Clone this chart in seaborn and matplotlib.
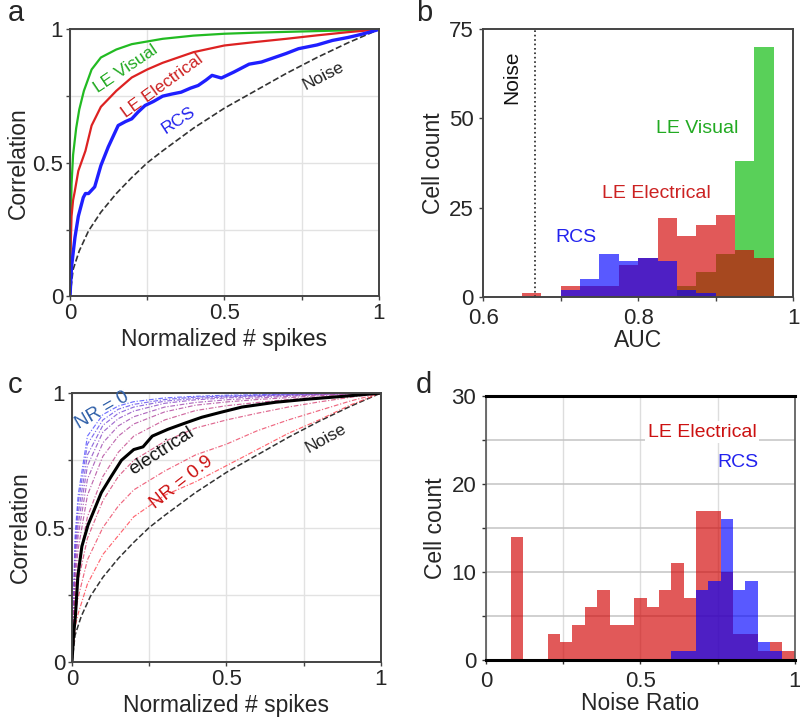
import numpy as np
import pandas as pd
import matplotlib
matplotlib.use("Agg")
import matplotlib.pyplot as plt
import seaborn as sns
from matplotlib.ticker import FixedLocator

sns.set_style("white")
plt.rcParams['font.family'] = ['Liberation Sans', 'DejaVu Sans']

# ---------------- Panel a data ----------------
noise_x = [0, .01, .03, .06, .1, .15, .2, .25, .3, .4, .5, .6, .7, .8, .9, 1.0]
noise_y = [0, .10, .17, .245, .315, .385, .445, .50, .545, .63, .705, .77, .835, .895, .95, 1.0]

vis_x = [0, .002, .005, .01, .02, .03, .045, .07, .1, .15, .2, .3, .4, .5, .6, .7, .8, .9, 1.0]
vis_y = [0, .25, .42, .53, .63, .70, .77, .85, .895, .925, .945, .965, .977, .984, .988, .991, .994, .997, 1.0]

ele_x = [0, .002, .005, .01, .015, .027, .05, .07, .1, .15, .2, .25, .3, .4, .5, .6, .7, .8, .9, 1.0]
ele_y = [0, .18, .30, .36, .39, .47, .545, .64, .71, .77, .82, .85, .875, .915, .94, .953, .965, .978, .99, 1.0]

rcs_x = [0, .005, .016, .027, .043, .05, .06, .08, .1, .124, .14, .156, .18, .2, .22, .243, .27, .3, .33,
         .36, .39, .415, .44, .46, .49, .53, .58, .62, .65, .7, .74, .8, .85, .9, .93, .97, 1.0]
rcs_y = [0, .11, .22, .30, .37, .385, .385, .41, .49, .56, .60, .64, .655, .665, .69, .715, .73, .75, .758,
         .765, .78, .79, .81, .828, .818, .84, .87, .878, .89, .91, .928, .942, .959, .97, .978, .99, 1.0]

# ---------------- Panel b data ----------------
auc_edges = [0.6, 0.625, 0.65, 0.675, 0.7, 0.725, 0.75, 0.775, 0.8, 0.825, 0.85,
             0.875, 0.9, 0.925, 0.95, 0.975, 1.0]
auc_visual = [0, 0, 0, 0, 0, 0, 0, 0, 0, 0, 3, 7, 12, 38, 70, 0]
auc_elec = [0, 0, 1, 0, 3, 3, 3, 9, 11, 22, 17, 20, 23, 13, 11, 0]
auc_rcs = [0, 0, 0, 0, 2, 5, 12, 10, 11, 10, 2, 1, 0, 0, 0, 0]
auc_noise = 0.667

# ---------------- Panel c data ----------------
nr_x = [0, .01, .02, .05, .1, .15, .2, .3, .4, .5, .6, .7, .8, .9, 1.0]
nr_levels = [0.0, 0.1, 0.2, 0.3, 0.4, 0.5, 0.6, 0.7, 0.8, 0.9]
nr_curves = [
    [0, .47, .62, .84, .92, .952, .968, .982, .988, .992, .994, .996, .998, .999, 1],
    [0, .44, .59, .81, .90, .94, .958, .976, .985, .989, .992, .995, .997, .999, 1],
    [0, .41, .55, .77, .88, .925, .948, .97, .98, .986, .99, .993, .996, .998, 1],
    [0, .38, .51, .73, .855, .905, .933, .962, .975, .982, .987, .991, .995, .998, 1],
    [0, .34, .47, .68, .815, .878, .912, .948, .965, .975, .982, .988, .993, .997, 1],
    [0, .30, .42, .62, .765, .84, .885, .93, .955, .967, .976, .983, .99, .995, 1],
    [0, .26, .36, .54, .69, .78, .84, .90, .935, .953, .965, .976, .985, .993, 1],
    [0, .22, .30, .46, .60, .69, .75, .82, .87, .90, .925, .948, .967, .984, 1],
    [0, .17, .24, .38, .50, .58, .64, .71, .77, .81, .86, .90, .935, .97, 1],
    [0, .13, .18, .29, .40, .47, .54, .62, .67, .73, .79, .85, .90, .955, 1],
]
elc_x = [0, .005, .011, .019, .032, .052, .07, .095, .127, .16, .2, .23, .26, .31, .37, .42, .48, .55, .66, .77, .88, 1.0]
elc_y = [0, .10, .17, .32, .43, .51, .56, .63, .69, .75, .79, .80, .84, .865, .89, .91, .928, .948, .966, .978, .988, 1.0]

# ---------------- Panel d data ----------------
nr_edges = [round(0.04 * i, 2) for i in range(26)]
nr_elec = [0, 0, 14, 0, 0, 3, 2, 4, 6, 8, 4, 4, 7, 6, 8, 11, 7, 17, 17, 10, 3, 3, 1, 2, 1]
nr_rcs = [0, 0, 0, 0, 0, 0, 0, 0, 0, 0, 0, 0, 0, 0, 0, 1, 1, 8, 9, 16, 8, 9, 2, 1, 0]

# ---------------- figure ----------------
fig = plt.figure(figsize=(8, 7.19), dpi=100)
ax_a = fig.add_axes([0.0875, 0.588, 0.386, 0.371])
ax_b = fig.add_axes([0.604, 0.587, 0.3875, 0.373])
ax_c = fig.add_axes([0.090, 0.0793, 0.386, 0.374])
ax_d = fig.add_axes([0.6075, 0.082, 0.386, 0.367])

TICK_FS = 16
LAB_FS = 16.5
SPINE = '#444444'


def style_unit(ax):
    ax.set_xlim(0, 1)
    ax.set_ylim(0, 1)
    ax.xaxis.set_major_locator(FixedLocator([0, 0.5, 1]))
    ax.yaxis.set_major_locator(FixedLocator([0, 0.5, 1]))
    ax.xaxis.set_minor_locator(FixedLocator([0.25, 0.75]))
    ax.yaxis.set_minor_locator(FixedLocator([0.25, 0.75]))
    ax.set_xticklabels(['0', '0.5', '1'])
    ax.set_yticklabels(['0', '0.5', '1'])
    ax.grid(True, which='both', color='#e2e2e2', lw=1)
    ax.set_axisbelow(True)
    for s in ax.spines.values():
        s.set_color(SPINE)
        s.set_linewidth(1.4)
    ax.tick_params(which='both', direction='out', length=3, width=1, color=SPINE,
                   labelsize=TICK_FS, pad=2, left=True, bottom=True)
    ax.set_xlabel('Normalized # spikes', fontsize=LAB_FS, labelpad=3)
    ax.set_ylabel('Correlation', fontsize=LAB_FS, labelpad=2)


# ---- a ----
sns.lineplot(x=noise_x, y=noise_y, ax=ax_a, color='#333333', lw=1.2, linestyle='--',
             estimator=None, sort=False)
sns.lineplot(x=vis_x, y=vis_y, ax=ax_a, color='#22bb22', lw=1.6, estimator=None, sort=False)
sns.lineplot(x=ele_x, y=ele_y, ax=ax_a, color='#dd2222', lw=1.6, estimator=None, sort=False)
sns.lineplot(x=rcs_x, y=rcs_y, ax=ax_a, color='#1f1fff', lw=2.4, estimator=None, sort=False)
style_unit(ax_a)
ax_a.text(0.18, 0.853, 'LE Visual', color='#22aa22', fontsize=12.5, rotation=34,
          ha='center', va='center')
ax_a.text(0.299, 0.788, 'LE Electrical', color='#cc2222', fontsize=12.5, rotation=36,
          ha='center', va='center')
ax_a.text(0.35, 0.659, 'RCS', color='#2222ee', fontsize=12.5, rotation=33,
          ha='center', va='center')
ax_a.text(0.82, 0.825, 'Noise', color='#222222', fontsize=12.5, rotation=27,
          ha='center', va='center')

# ---- b ----
auc_centers = [(auc_edges[i] + auc_edges[i + 1]) / 2 for i in range(len(auc_edges) - 1)]
for counts, col in [(auc_visual, (0, 0.72, 0)), (auc_elec, (0.82, 0, 0)), (auc_rcs, (0, 0, 1))]:
    sns.histplot(x=auc_centers, weights=counts, bins=auc_edges, ax=ax_b, color=col,
                 alpha=0.65, linewidth=0, element='bars')
ax_b.axvline(auc_noise, color='#222222', ls=':', lw=1.2)
ax_b.set_xlim(0.6, 1.0)
ax_b.set_ylim(0, 75)
ax_b.xaxis.set_major_locator(FixedLocator([0.6, 0.8, 1.0]))
ax_b.xaxis.set_minor_locator(FixedLocator([0.7, 0.9]))
ax_b.set_xticklabels(['0.6', '0.8', '1'])
ax_b.yaxis.set_major_locator(FixedLocator([0, 25, 50, 75]))
for s in ax_b.spines.values():
    s.set_color(SPINE)
    s.set_linewidth(1.4)
ax_b.tick_params(which='both', direction='out', length=3, width=1, color=SPINE,
                 labelsize=TICK_FS, pad=2, left=True, bottom=True)
ax_b.tick_params(axis='x', pad=5)
ax_b.tick_params(axis='y', pad=4)
ax_b.set_xlabel('AUC', fontsize=LAB_FS, labelpad=0)
ax_b.set_ylabel('Cell count', fontsize=LAB_FS, labelpad=3)
ax_b.text(0.8765, 47.2, 'LE Visual', color='#22aa22', fontsize=14, ha='center', va='center')
ax_b.text(0.823, 28.8, 'LE Electrical', color='#cc2222', fontsize=14, ha='center', va='center')
ax_b.text(0.72, 16.7, 'RCS', color='#2222ee', fontsize=14, ha='center', va='center')
ax_b.text(0.637, 61.5, 'Noise', color='#111111', fontsize=15, rotation=90,
          ha='center', va='center')

# ---- c ----
sns.lineplot(x=noise_x, y=noise_y, ax=ax_c, color='#333333', lw=1.1, linestyle='--',
             estimator=None, sort=False)
blue = np.array([0.3, 0.3, 1.0])
red = np.array([1.0, 0.25, 0.3])
for lvl, curve in zip(nr_levels, nr_curves):
    t = lvl / 0.9
    col = tuple((1 - t) * blue + t * red)
    sns.lineplot(x=nr_x, y=curve, ax=ax_c, color=col, lw=0.85, alpha=0.8,
                 linestyle=(0, (4, 1.5, 1, 1.5)), estimator=None, sort=False)
sns.lineplot(x=elc_x, y=elc_y, ax=ax_c, color='black', lw=2.2, estimator=None, sort=False)
style_unit(ax_c)
ax_c.text(0.097, 0.935, 'NR = 0', color='#2f5fa8', fontsize=13.5, rotation=30,
          ha='center', va='center')
ax_c.text(0.291, 0.784, 'electrical', color='#111111', fontsize=13.5, rotation=33,
          ha='center', va='center')
ax_c.text(0.356, 0.668, 'NR = 0.9', color='#cc1111', fontsize=13.5, rotation=38,
          ha='center', va='center')
ax_c.text(0.822, 0.833, 'Noise', color='#222222', fontsize=12.5, rotation=29,
          ha='center', va='center')

# ---- d ----
nr_centers = [(nr_edges[i] + nr_edges[i + 1]) / 2 for i in range(len(nr_edges) - 1)]
for counts, col in [(nr_elec, (0.82, 0, 0)), (nr_rcs, (0, 0, 1))]:
    sns.histplot(x=nr_centers, weights=counts, bins=nr_edges, ax=ax_d, color=col,
                 alpha=0.65, linewidth=0, element='bars')
ax_d.set_xlim(0, 1)
ax_d.set_ylim(0, 30)
ax_d.xaxis.set_major_locator(FixedLocator([0, 0.5, 1]))
ax_d.xaxis.set_minor_locator(FixedLocator([0.25, 0.75]))
ax_d.set_xticklabels(['0', '0.5', '1'])
ax_d.yaxis.set_major_locator(FixedLocator([0, 10, 20, 30]))
ax_d.yaxis.set_minor_locator(FixedLocator([5, 15, 25]))
ax_d.grid(True, which='both', axis='y', color='#c4c4c4', lw=1.1)
ax_d.grid(True, which='both', axis='x', color='#dddddd', lw=1.0)
ax_d.set_axisbelow(True)
for side in ['left', 'right']:
    ax_d.spines[side].set_color('#555555')
    ax_d.spines[side].set_linewidth(1.2)
for side in ['top', 'bottom']:
    ax_d.spines[side].set_color('black')
    ax_d.spines[side].set_linewidth(2.2)
ax_d.tick_params(which='both', direction='out', length=3, width=1, color='#333333',
                 labelsize=TICK_FS, pad=2, left=True, bottom=True)
ax_d.tick_params(axis='x', pad=5)
ax_d.tick_params(axis='y', pad=4)
ax_d.set_xlabel('Noise Ratio', fontsize=LAB_FS, labelpad=0)
ax_d.set_ylabel('Cell count', fontsize=LAB_FS, labelpad=3)
ax_d.text(0.70, 25.9, 'LE Electrical', color='#cc1111', fontsize=14, ha='center',
          va='center', bbox=dict(facecolor='white', edgecolor='none', pad=2))
ax_d.text(0.815, 22.5, 'RCS', color='#2222ee', fontsize=14, ha='center', va='center')

# panel letters
fig.text(0.010, 0.982, 'a', fontsize=21, ha='left', va='center')
fig.text(0.520, 0.982, 'b', fontsize=21, ha='left', va='center')
fig.text(0.010, 0.465, 'c', fontsize=21, ha='left', va='center')
fig.text(0.520, 0.465, 'd', fontsize=21, ha='left', va='center')

fig.savefig('out.png', dpi=100)
